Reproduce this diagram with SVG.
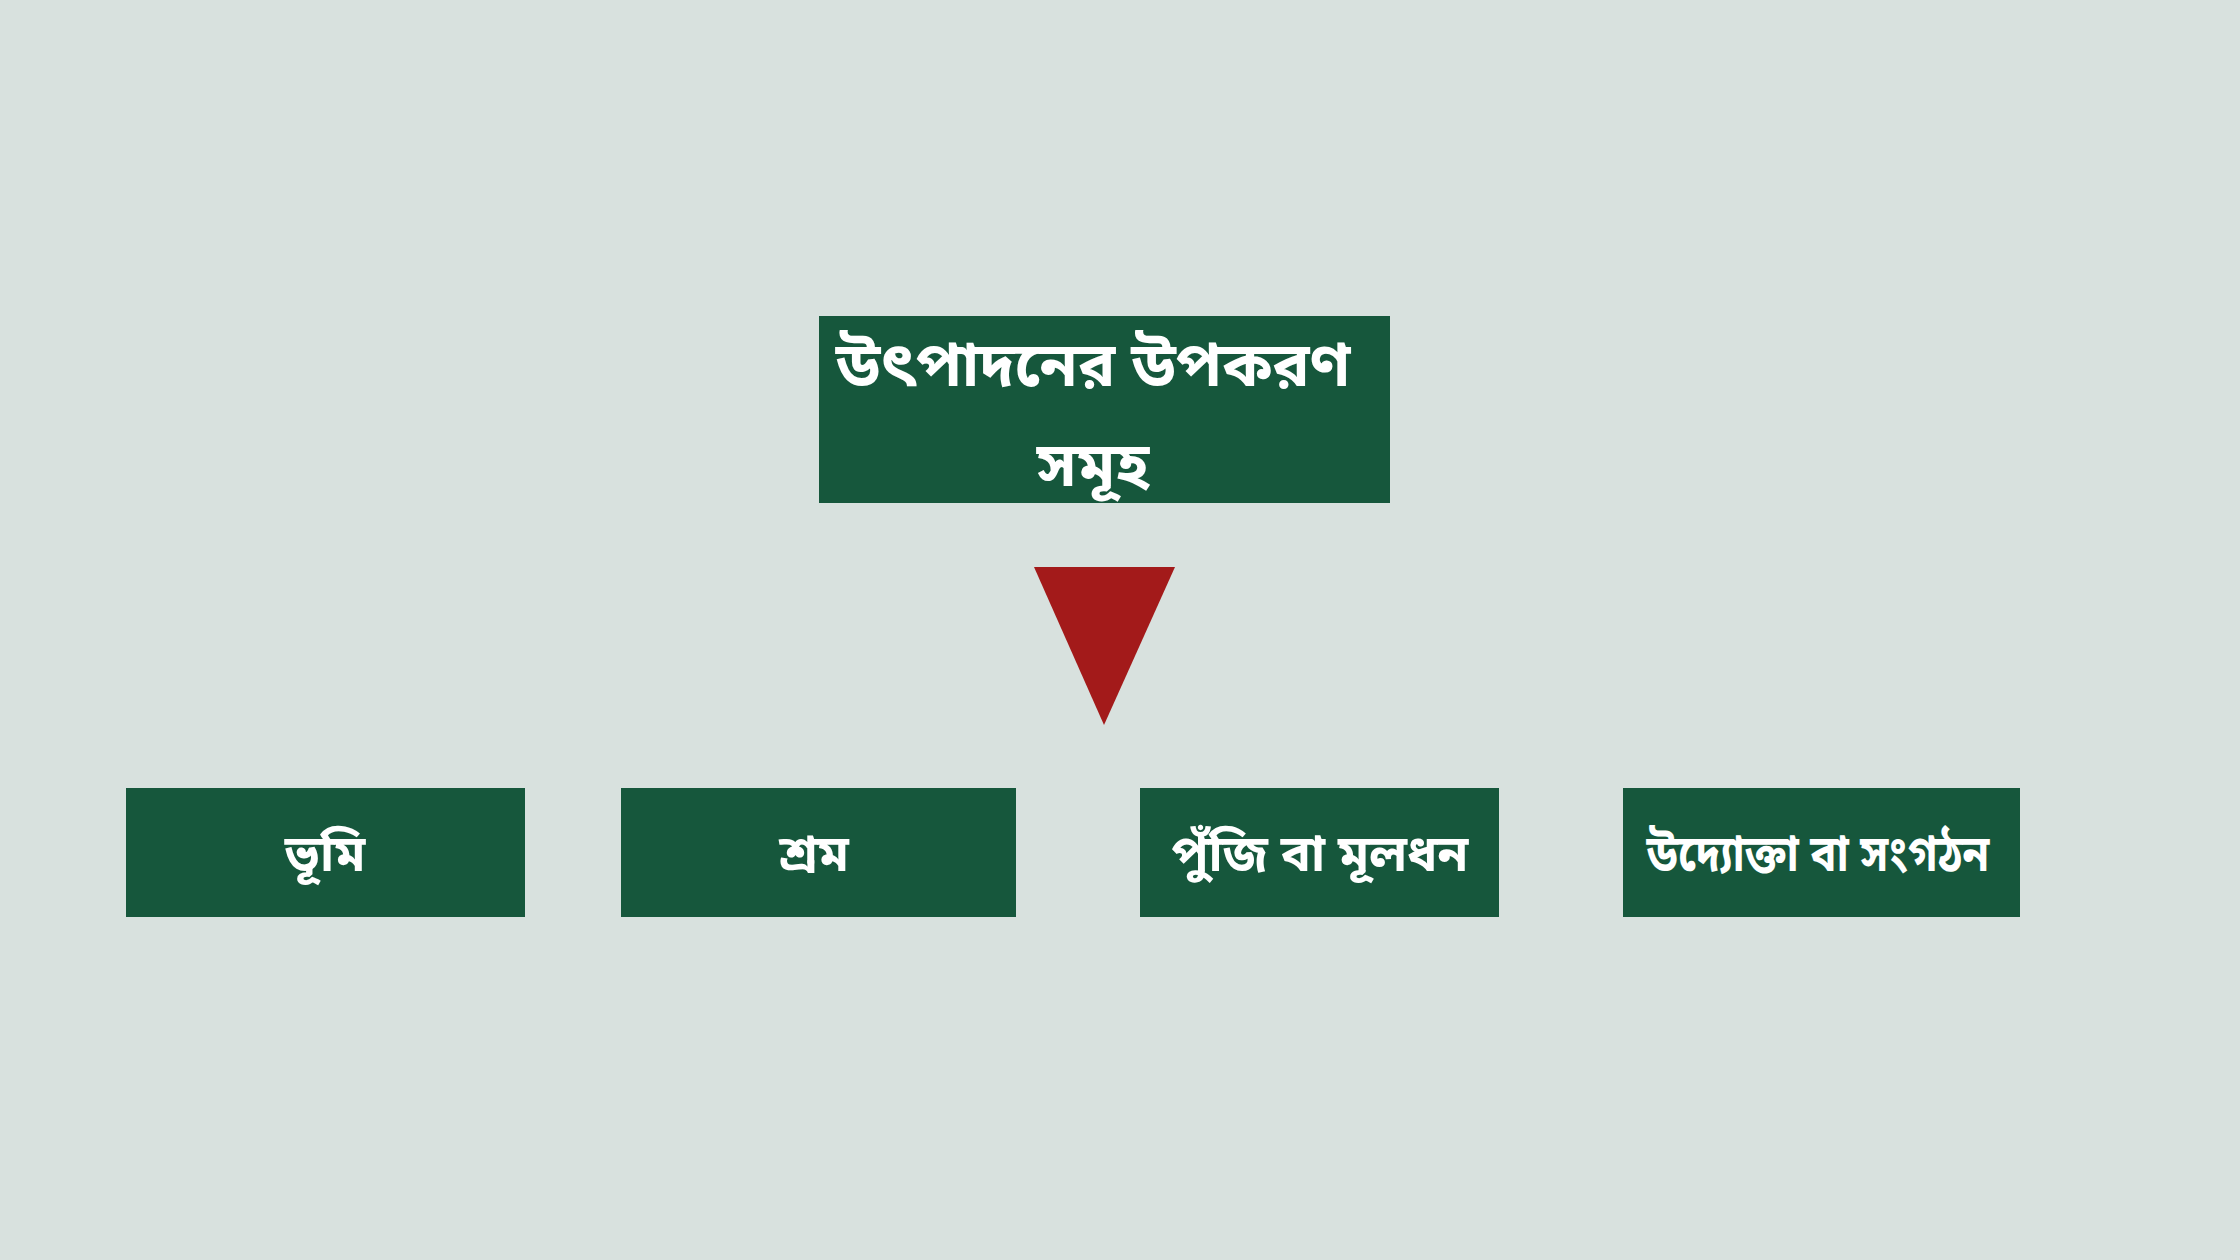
<svg xmlns="http://www.w3.org/2000/svg" width="2240" height="1260" viewBox="0 0 2240 1260">
<style>
.box{fill:#16573c}
.t{fill:#ffffff;font-family:"Noto Sans Bengali","Noto Sans","Lohit Bengali","FreeSans",sans-serif;font-weight:bold;text-anchor:middle}
.tt{font-size:62px}
.tb{font-size:50px}
</style>
<rect width="2240" height="1260" fill="#d8e1de"/>
<g id="title">
<rect class="box" x="819" y="316" width="571" height="187"/>
<text class="t tt" x="1093" y="386">উৎপাদনের উপকরণ</text>
<text class="t tt" x="1093" y="486">সমূহ</text>
</g>
<g id="connectors">
<polygon points="1034,567 1175,567 1104,725" fill="#a31a1a"/>
</g>
<g id="n1">
<rect class="box" x="126" y="788" width="399" height="129"/>
<text class="t tb" x="325" y="871">ভূমি</text>
</g>
<g id="n2">
<rect class="box" x="621" y="788" width="395" height="129"/>
<text class="t tb" x="814" y="871">শ্রম</text>
</g>
<g id="n3">
<rect class="box" x="1140" y="788" width="359" height="129"/>
<text class="t tb" x="1320" y="871">পুঁজি বা মূলধন</text>
</g>
<g id="n4">
<rect class="box" x="1623" y="788" width="397" height="129"/>
<text class="t tb" x="1818" y="871" textLength="343" lengthAdjust="spacingAndGlyphs">উদ্যোক্তা বা সংগঠন</text>
</g>
</svg>
